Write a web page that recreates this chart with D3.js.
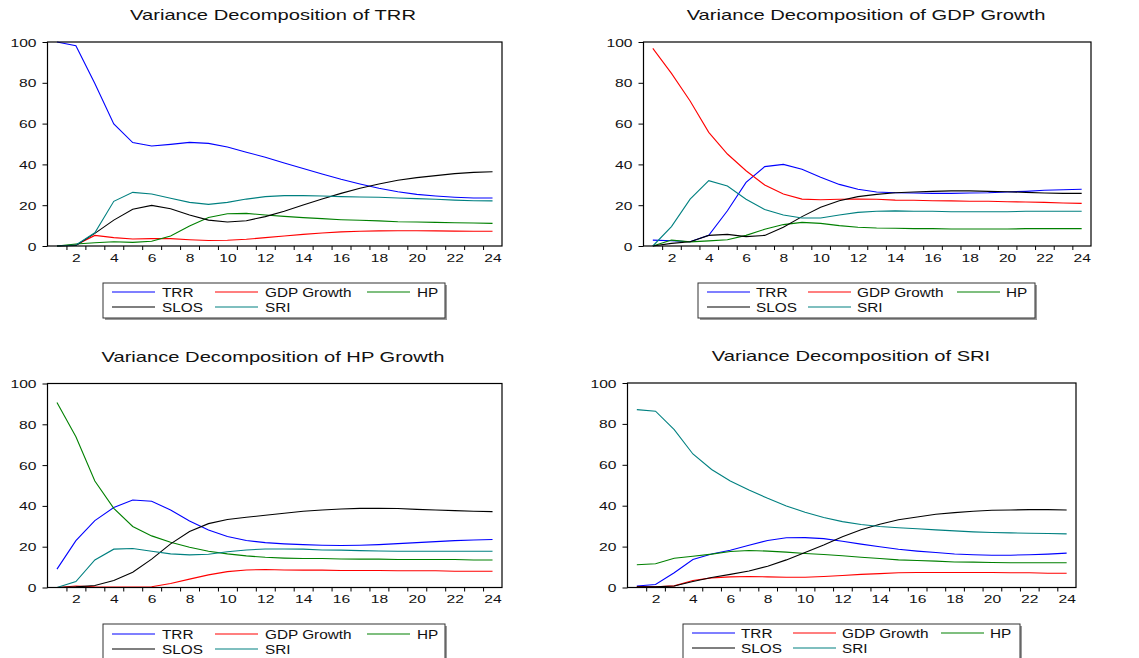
<!DOCTYPE html>
<html>
<head>
<meta charset="utf-8">
<script src="https://d3js.org/d3.v7.min.js"></script>
<style>
  body { margin: 0; background: white; }
  text { font-family: "Liberation Sans", Arial, sans-serif; fill: #111; }
  .tick line { stroke: #000; }
  .domain { display: none; }
</style>
</head>
<body>
<div id="chart"></div>
<script>
// ---------- DATA ----------
var periods = d3.range(1, 25);
var seriesNames = ["TRR", "GDP Growth", "HP", "SLOS", "SRI"];
var seriesColors = ["#0000ff", "#ff0000", "#008000", "#000000", "#008080"];
var yTicks = [0, 20, 40, 60, 80, 100];
var xLabels = [2, 4, 6, 8, 10, 12, 14, 16, 18, 20, 22, 24];

// Variance Decomposition of TRR
var trr_TRR  = [100, 98.2, 79.7, 59.8, 50.7, 49, 49.8, 50.8, 50.3, 48.5, 46, 43.5, 40.7, 38, 35.3, 32.7, 30.4, 28.3, 26.6, 25.3, 24.5, 23.9, 23.5, 23.5];
var trr_GDP  = [0, 0.5, 5.2, 4.1, 3.4, 3.6, 3.6, 3.1, 2.7, 2.8, 3.3, 4.1, 4.9, 5.7, 6.4, 6.9, 7.2, 7.4, 7.5, 7.5, 7.4, 7.3, 7.2, 7.2];
var trr_HP   = [0, 1, 1.6, 2.1, 1.8, 2.3, 4.9, 9.8, 14, 15.8, 16, 15.2, 14.5, 13.9, 13.4, 12.9, 12.6, 12.3, 11.9, 11.8, 11.6, 11.4, 11.3, 11.1];
var trr_SLOS = [0, 0.3, 6.2, 12.7, 18, 19.9, 18.3, 15.2, 12.7, 11.8, 12.4, 14.4, 17, 20.1, 23, 25.8, 28.3, 30.4, 32.2, 33.5, 34.5, 35.5, 36.1, 36.4];
var trr_SRI  = [0, 0.5, 6.5, 21.9, 26.3, 25.5, 23.4, 21.4, 20.4, 21.4, 23, 24.2, 24.7, 24.7, 24.5, 24.2, 24, 23.9, 23.5, 23.2, 22.9, 22.5, 22.2, 22.1];

// Variance Decomposition of GDP Growth
var gdp_TRR  = [2.9, 2.6, 2.1, 5.2, 17.3, 31.2, 38.9, 40, 37.6, 33.7, 30.2, 27.8, 26.5, 26.1, 26, 25.8, 25.8, 26, 26.1, 26.5, 26.8, 27.3, 27.6, 27.8];
var gdp_GDP  = [96.9, 84.6, 71.1, 55.7, 45.1, 36.9, 29.9, 25.5, 23, 22.7, 22.9, 23, 22.9, 22.5, 22.4, 22.2, 22.1, 21.9, 21.9, 21.7, 21.6, 21.4, 21.1, 20.9];
var gdp_HP   = [0, 2.9, 2, 2.5, 3.1, 5.2, 8.2, 10.5, 11.6, 11.1, 10, 9.2, 8.8, 8.7, 8.5, 8.5, 8.3, 8.3, 8.3, 8.3, 8.5, 8.5, 8.5, 8.5];
var gdp_SLOS = [0, 1.3, 2.1, 5.2, 5.7, 4.6, 5.2, 9.2, 14.4, 19, 22.2, 24.2, 25.3, 26.1, 26.5, 26.8, 27, 27, 26.8, 26.6, 26.3, 26, 25.8, 25.8];
var gdp_SRI  = [0, 9.5, 23, 32, 29.4, 22.9, 17.9, 15.2, 13.7, 13.7, 15.2, 16.5, 17, 17.2, 17, 17, 16.8, 16.8, 16.8, 16.8, 17, 17, 17, 17];

// Variance Decomposition of HP Growth
var hp_TRR  = [9, 23, 32.8, 39.2, 42.9, 42.3, 38, 32.6, 28.2, 25, 23, 22, 21.4, 21, 20.7, 20.6, 20.7, 21, 21.5, 22, 22.5, 23, 23.3, 23.5];
var hp_GDP  = [0, 0.7, 0.3, 0.2, 0.2, 0.4, 2, 4.1, 6.2, 7.8, 8.6, 8.8, 8.6, 8.5, 8.5, 8.3, 8.3, 8.3, 8.2, 8.2, 8.2, 8, 8, 8];
var hp_HP   = [90.7, 73.9, 52.2, 38.8, 29.9, 25.3, 22.2, 19.7, 17.8, 16.5, 15.5, 14.8, 14.4, 14.2, 14.2, 14, 13.9, 13.9, 13.7, 13.7, 13.7, 13.7, 13.5, 13.5];
var hp_SLOS = [0, 0.3, 1, 3.4, 7.5, 13.9, 21.4, 27.4, 31.3, 33.3, 34.4, 35.4, 36.4, 37.4, 38, 38.5, 38.8, 38.8, 38.7, 38.3, 38, 37.7, 37.4, 37.2];
var hp_SRI  = [0, 2.9, 13.5, 18.8, 19.1, 17.8, 16.5, 16, 16.3, 17.5, 18.4, 18.9, 18.9, 18.8, 18.4, 18.3, 18.1, 17.9, 17.8, 17.8, 17.8, 17.8, 17.8, 17.8];

// Variance Decomposition of SRI
var sri_TRR  = [0.7, 1.5, 7.2, 13.7, 16.4, 18.2, 20.7, 23, 24.3, 24.4, 23.9, 22.6, 21.2, 19.9, 18.7, 17.8, 17.1, 16.4, 16, 15.8, 15.8, 16, 16.3, 16.8];
var sri_GDP  = [0.5, 0.3, 0.8, 3.4, 4.7, 5.2, 5.4, 5.2, 5, 5, 5.4, 5.9, 6.4, 6.8, 7.2, 7.3, 7.3, 7.3, 7.3, 7.3, 7.2, 7.2, 7, 7];
var sri_HP   = [11.1, 11.6, 14.3, 15.3, 16.3, 17.6, 18.1, 17.8, 17.3, 16.6, 16.1, 15.5, 14.8, 14.2, 13.5, 13.2, 12.9, 12.5, 12.4, 12.2, 12.1, 12.1, 12.1, 12.1];
var sri_SLOS = [0.3, 0.3, 0.7, 2.9, 4.9, 6.4, 8.1, 10.4, 13.5, 17.1, 20.8, 24.8, 28.2, 30.9, 33.1, 34.5, 35.8, 36.6, 37.3, 37.8, 37.9, 38.1, 38.1, 37.9];
var sri_SRI  = [87, 86.2, 77.2, 65.3, 57.7, 52.1, 47.7, 43.6, 39.9, 36.8, 34.2, 32.2, 30.8, 29.8, 29.2, 28.7, 28.2, 27.7, 27.2, 26.9, 26.7, 26.5, 26.4, 26.2];

// ---------- LAYOUT ----------
var width = 1139, height = 658;

var panels = [
  { title: "Variance Decomposition of TRR", series: [trr_TRR, trr_GDP, trr_HP, trr_SLOS, trr_SRI],
    left: 47.5, right: 502, top: 42, bottom: 246, titleX: 273, titleY: 20,
    legend: { x: 103, y: 283, w: 342, cols: [112, 215, 367], lineW: 43, gap: 7, row1: 292, row2: 307 } },
  { title: "Variance Decomposition of GDP Growth", series: [gdp_TRR, gdp_GDP, gdp_HP, gdp_SLOS, gdp_SRI],
    left: 643.5, right: 1091, top: 42, bottom: 246, titleX: 866, titleY: 20,
    legend: { x: 698, y: 283, w: 337, cols: [707, 808, 957], lineW: 43, gap: 6, row1: 292, row2: 307 } },
  { title: "Variance Decomposition of HP Growth", series: [hp_TRR, hp_GDP, hp_HP, hp_SLOS, hp_SRI],
    left: 47.5, right: 502, top: 383.5, bottom: 587.5, titleX: 273, titleY: 362,
    legend: { x: 103, y: 624, w: 342, cols: [112, 215, 367], lineW: 43, gap: 7, row1: 634, row2: 649 } },
  { title: "Variance Decomposition of SRI", series: [sri_TRR, sri_GDP, sri_HP, sri_SLOS, sri_SRI],
    left: 627.5, right: 1076, top: 383, bottom: 587.5, titleX: 851, titleY: 361,
    legend: { x: 683, y: 624, w: 337, cols: [692, 793, 941], lineW: 43, gap: 6, row1: 633, row2: 648 } }
];

var svg = d3.select("#chart").append("svg")
  .attr("width", width)
  .attr("height", height)
  .style("display", "block")
  .style("background", "white");

// text is drawn horizontally stretched like the original export
function stretchText(g, x, y, str, size, sx, anchor) {
  return g.append("text")
    .attr("transform", "translate(" + x + "," + y + ") scale(" + sx + ",1)")
    .attr("text-anchor", anchor)
    .style("font-size", size + "px")
    .text(str);
}

panels.forEach(function(p) {
  var g = svg.append("g");

  var x = d3.scaleLinear().domain([0.5, 24.5]).range([p.left, p.right]);
  var y = d3.scaleLinear().domain([0, 100]).range([p.bottom, p.top]);

  // title
  stretchText(g, p.titleX, p.titleY, p.title, 14, 1.44, "middle");

  // y axis
  var yAxis = g.append("g")
    .attr("transform", "translate(" + p.left + ",0)")
    .call(d3.axisLeft(y).tickValues(yTicks).tickSize(5).tickPadding(0));
  yAxis.selectAll("text")
    .attr("x", null).attr("dy", null)
    .attr("transform", "translate(-11,4) scale(1.42,1)")
    .style("font-size", "11px")
    .style("font-family", "'Liberation Sans', Arial, sans-serif")
    .attr("fill", "#111");

  // x axis ticks at category boundaries
  g.append("g")
    .attr("transform", "translate(0," + p.bottom + ")")
    .call(d3.axisBottom(x).tickValues(d3.range(1.5, 24.5, 1)).tickSize(4).tickFormat(""));

  // x axis labels
  var xAxis = g.append("g")
    .attr("transform", "translate(0," + p.bottom + ")")
    .call(d3.axisBottom(x).tickValues(xLabels).tickSize(0).tickFormat(d3.format("d")));
  xAxis.selectAll("text")
    .attr("y", null).attr("dy", null)
    .attr("transform", "translate(0,15.5) scale(1.42,1)")
    .style("font-size", "11px")
    .style("font-family", "'Liberation Sans', Arial, sans-serif")
    .attr("fill", "#111");

  // lines
  var line = d3.line()
    .x(function(d, i) { return x(periods[i]); })
    .y(function(d) { return y(d); });

  p.series.forEach(function(vals, k) {
    g.append("path")
      .datum(vals)
      .attr("fill", "none")
      .attr("stroke", seriesColors[k])
      .attr("stroke-width", 1.1)
      .attr("d", line);
  });

  // frame
  g.append("rect")
    .attr("x", p.left).attr("y", p.top)
    .attr("width", p.right - p.left).attr("height", p.bottom - p.top)
    .attr("fill", "none").attr("stroke", "#000").attr("stroke-width", 1.2);

  // legend
  var L = p.legend;
  g.append("rect")
    .attr("x", L.x + 2).attr("y", L.y + 2)
    .attr("width", L.w).attr("height", 35)
    .attr("fill", "#9a9a9a");
  g.append("rect")
    .attr("x", L.x).attr("y", L.y)
    .attr("width", L.w).attr("height", 35)
    .attr("fill", "white").attr("stroke", "#333").attr("stroke-width", 1);

  seriesNames.forEach(function(name, k) {
    var col = k % 3, row = Math.floor(k / 3);
    var lx = L.cols[col];
    var ly = row === 0 ? L.row1 : L.row2;
    g.append("line")
      .attr("x1", lx).attr("x2", lx + L.lineW)
      .attr("y1", ly).attr("y2", ly)
      .attr("stroke", seriesColors[k]).attr("stroke-width", 1.1);
    stretchText(g, lx + L.lineW + L.gap, ly + 4.7, name, 13, 1.18, "start");
  });
});
</script>
</body>
</html>
